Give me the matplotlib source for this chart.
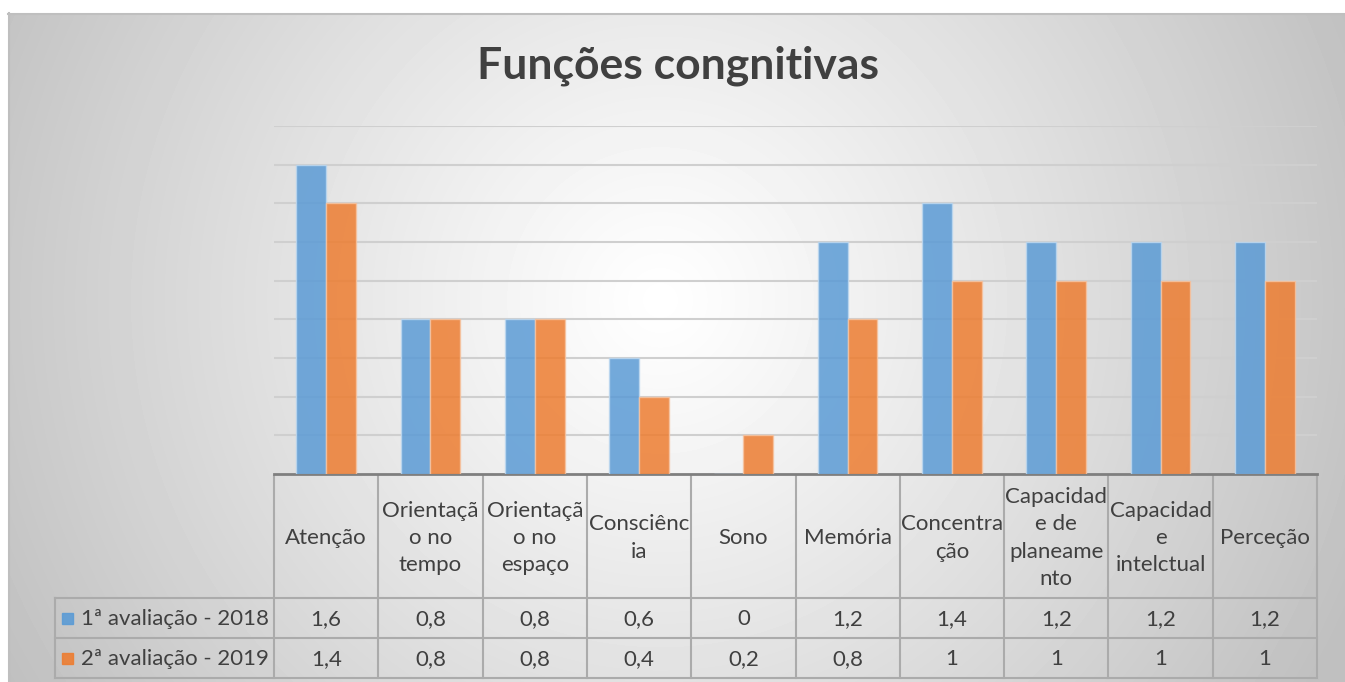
import numpy as np
import matplotlib
matplotlib.use("Agg")
import matplotlib.pyplot as plt
from matplotlib.patches import Rectangle

plt.rcParams['font.family'] = ['Lato', 'DejaVu Sans']

# chart data
categories = ["Atenção", "Orientaçã\no no\ntempo", "Orientaçã\no no\nespaço", "Consciênc\nia",
              "Sono", "Memória", "Concentra\nção", "Capacidad\ne de\nplaneame\nnto",
              "Capacidad\ne\nintelctual", "Perceção"]
series_names = ["1ª avaliação - 2018", "2ª avaliação - 2019"]
aval_2018 = [1.6, 0.8, 0.8, 0.6, 0, 1.2, 1.4, 1.2, 1.2, 1.2]
aval_2019 = [1.4, 0.8, 0.8, 0.4, 0.2, 0.8, 1, 1, 1, 1]
colors = ["#5B9BD5", "#ED7D31"]
title = "Funções congnitivas"

W, H = 1345, 682
fig = plt.figure(figsize=(W / 100, H / 100), dpi=100)

# background axes in pixel coords
bg = fig.add_axes([0, 0, 1, 1])
bg.set_xlim(0, W)
bg.set_ylim(H, 0)
bg.axis('off')

# radial gradient like the excel chart area
cx, cy, R = 660, 300, 760
xs = np.arange(8, W)
ys = np.arange(13, H)
gx, gy = np.meshgrid(xs, ys)
r = np.sqrt((gx - cx) ** 2 + (gy - cy) ** 2) / R
shade = 1.0 - 0.25 * np.clip(r, 0, 1) ** 1.1
bg.imshow(shade, cmap='gray', vmin=0, vmax=1, extent=(8, W, H, 13), aspect='auto',
          interpolation='bilinear')
bg.plot([8, W], [13.5, 13.5], color='#bfbfbf', lw=1.5)
bg.plot([8.5, 8.5], [13, H], color='#bfbfbf', lw=1.5)

bg.text(678, 66, title, ha='center', va='center', fontsize=32, fontweight='bold',
        color='#404040')

# plot area
left, right, top, zero = 274, 1317, 126, 474
ax = fig.add_axes([left / W, 1 - zero / H, (right - left) / W, (zero - top) / H])
ax.patch.set_visible(False)
n = len(categories)
x = np.arange(n)
bw = 0.286
ax.bar(x - bw / 2, aval_2018, bw, color=colors[0], alpha=0.85, edgecolor='#bcd7ef',
       linewidth=1, zorder=3)
ax.bar(x + bw / 2, aval_2019, bw, color=colors[1], alpha=0.85, edgecolor='#f6c3a0',
       linewidth=1, zorder=3)
ax.set_xlim(-0.5, n - 0.5)
ax.set_ylim(0, 1.8)
ax.set_yticks(np.arange(0.2, 1.81, 0.2))
ax.yaxis.grid(True, color='#cfcfcf', lw=1.5, zorder=0)
ax.set_axisbelow(True)
ax.tick_params(left=False, bottom=False, labelleft=False, labelbottom=False)
for s in ['left', 'right', 'top']:
    ax.spines[s].set_visible(False)
ax.spines['bottom'].set_color('#7f7f7f')
ax.spines['bottom'].set_linewidth(2)

# data table under the plot
cw = (right - left) / n
hdr_top, row1, row2, bot = 476, 598, 638, 678
leg_left = 55
tcol = '#ababab'
txt = '#404040'
fs = 16
for i in range(n + 1):
    xx = left + i * cw
    bg.plot([xx, xx], [hdr_top, bot], color=tcol, lw=1.5)
bg.plot([leg_left, leg_left], [row1, bot], color=tcol, lw=1.5)
bg.plot([leg_left, right], [row1, row1], color=tcol, lw=1.5)
bg.plot([leg_left, right], [row2, row2], color=tcol, lw=1.5)
bg.plot([leg_left, right], [bot, bot], color=tcol, lw=1.5)

for i, cat in enumerate(categories):
    xc = left + (i + 0.5) * cw
    bg.text(xc, (hdr_top + row1) / 2 + 1, cat, ha='center', va='center', fontsize=fs,
            color=txt, linespacing=1.45)
    bg.text(xc, (row1 + row2) / 2 + 1, f"{aval_2018[i]:g}".replace('.', ','),
            ha='center', va='center', fontsize=fs, color=txt)
    bg.text(xc, (row2 + bot) / 2 + 1, f"{aval_2019[i]:g}".replace('.', ','),
            ha='center', va='center', fontsize=fs, color=txt)

for k, (y0, y1) in enumerate([(row1, row2), (row2, bot)]):
    ym = (y0 + y1) / 2
    bg.add_patch(Rectangle((62, ym - 5.5), 11, 11, color=colors[k], alpha=0.9))
    bg.text(81, ym + 1, series_names[k], ha='left', va='center', fontsize=fs, color=txt)

fig.savefig("out.png", dpi=100)
